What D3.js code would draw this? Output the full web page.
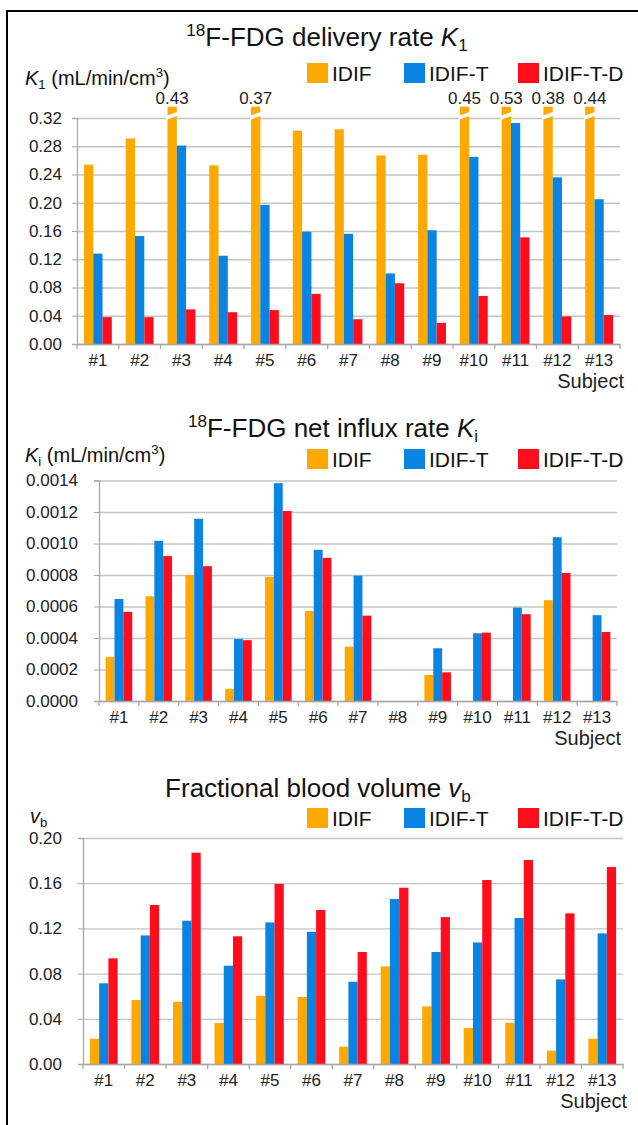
<!DOCTYPE html>
<html>
<head>
<meta charset="utf-8">
<script src="https://cdn.jsdelivr.net/npm/d3@7"></script>
<style>
  body { margin: 0; background: #fff; }
  svg { display: block; font-family: "Liberation Sans", Arial, sans-serif; }
</style>
</head>
<body>
<div id="chart"></div>
<script>
// data
const subjects = ["#1", "#2", "#3", "#4", "#5", "#6", "#7", "#8", "#9", "#10", "#11", "#12", "#13"];
const seriesNames = ["IDIF", "IDIF-T", "IDIF-T-D"];

// K1 (mL/min/cm3)
const k1Idif = [0.254, 0.291, 0.43, 0.253, 0.37, 0.302, 0.304, 0.267, 0.268, 0.45, 0.53, 0.38, 0.44];
const k1IdifT = [0.128, 0.153, 0.281, 0.125, 0.197, 0.159, 0.156, 0.100, 0.161, 0.265, 0.313, 0.236, 0.205];
const k1IdifTD = [0.038, 0.038, 0.049, 0.045, 0.048, 0.071, 0.035, 0.086, 0.030, 0.068, 0.151, 0.039, 0.041];
const k1Ticks = [0, 0.04, 0.08, 0.12, 0.16, 0.20, 0.24, 0.28, 0.32];

// Ki (mL/min/cm3)
const kiIdif = [0.00028, 0.000665, 0.0008, 0.000078, 0.000788, 0.000572, 0.000345, 0, 0.000165, 0, 0, 0.00064, 0];
const kiIdifT = [0.000648, 0.001017, 0.001157, 0.000394, 0.001383, 0.00096, 0.000796, 0, 0.000335, 0.00043, 0.000593, 0.00104, 0.000545];
const kiIdifTD = [0.000566, 0.00092, 0.000856, 0.000386, 0.001207, 0.000909, 0.000542, 0, 0.000182, 0.000434, 0.000551, 0.000813, 0.000438];
const kiTicks = [0, 0.0002, 0.0004, 0.0006, 0.0008, 0.0010, 0.0012, 0.0014];

// vb
const vbIdif = [0.0224, 0.0566, 0.0551, 0.0363, 0.0604, 0.0593, 0.0153, 0.0864, 0.051, 0.0319, 0.0365, 0.0118, 0.0224];
const vbIdifT = [0.0714, 0.1138, 0.1268, 0.087, 0.1253, 0.117, 0.0728, 0.146, 0.0991, 0.1076, 0.1292, 0.0749, 0.1156];
const vbIdifTD = [0.0935, 0.1407, 0.187, 0.113, 0.1593, 0.1363, 0.0991, 0.156, 0.130, 0.1628, 0.1805, 0.1333, 0.1743];
const vbTicks = [0, 0.04, 0.08, 0.12, 0.16, 0.20];

// titles / labels as rich text parts
const k1Title = [{t: "18", sup: 1}, {t: "F-FDG delivery rate "}, {t: "K", it: 1}, {t: "1", sub: 1}];
const kiTitle = [{t: "18", sup: 1}, {t: "F-FDG net influx rate "}, {t: "K", it: 1}, {t: "i", sub: 1}];
const vbTitle = [{t: "Fractional blood volume "}, {t: "v", it: 1}, {t: "b", sub: 1}];
const k1Label = [{t: "K", it: 1}, {t: "1", sub: 1}, {t: " (mL/min/cm"}, {t: "3", sup: 1}, {t: ")"}];
const kiLabel = [{t: "K", it: 1}, {t: "i", sub: 1}, {t: " (mL/min/cm"}, {t: "3", sup: 1}, {t: ")"}];
const vbLabel = [{t: "v", it: 1}, {t: "b", sub: 1}];
const xLabel = "Subject";

let width = 638;
let height = 1125;
let colors = {"IDIF": "#FFA800", "IDIF-T": "#0A84E2", "IDIF-T-D": "#FF0D1C"};
let gridColor = "#c4c4c4";
let axisColor = "#a8a8a8";

let svg = d3.select("#chart").append("svg").attr("width", width).attr("height", height);

// black frame (open to the right / bottom)
svg.append("path").attr("d", "M7,1125 V11 H638")
    .attr("fill", "none").attr("stroke", "#000").attr("stroke-width", 2);

function rich(text, parts, fs) {
    let shift = 0;
    parts.forEach(p => {
        let target = p.sup ? -fs * 0.38 : (p.sub ? fs * 0.2 : 0);
        text.append("tspan")
            .attr("dy", target - shift)
            .attr("font-size", (p.sup || p.sub) ? fs * 0.66 : fs)
            .attr("font-style", p.it ? "italic" : null)
            .text(p.t);
        shift = target;
    });
}

function drawChart(c) {
    let g = svg.append("g");
    let x = d3.scaleBand().domain(subjects).range([c.left, c.right]).paddingInner(1 / 3).paddingOuter(1 / 6);
    let x1 = d3.scaleBand().domain(seriesNames).range([0, x.bandwidth()]);
    let y = d3.scaleLinear().domain([0, c.yMax]).range([c.bottom, c.top]);

    // gridlines
    g.append("g").attr("transform", `translate(${c.left},0)`)
        .call(d3.axisLeft(y).tickValues(c.ticks).tickSize(-(c.right - c.left)).tickFormat(""))
        .call(a => a.select(".domain").remove())
        .call(a => a.selectAll("line").attr("stroke", gridColor).attr("stroke-width", 1.3));

    // bars
    let rows = subjects.map((s, i) => ({s: s, vals: c.series.map((arr, k) => ({key: seriesNames[k], v: arr[i]}))}));
    let cap = c.yMax * 1.05;
    let groups = g.selectAll(".grp").data(rows).join("g").attr("class", "grp")
        .attr("transform", d => `translate(${x(d.s)},0)`);
    groups.selectAll("rect").data(d => d.vals.filter(v => v.v > 0)).join("rect")
        .attr("x", d => x1(d.key))
        .attr("width", x1.bandwidth())
        .attr("y", d => y(Math.min(d.v, cap)))
        .attr("height", d => c.bottom - y(Math.min(d.v, cap)))
        .attr("fill", d => colors[d.key]);

    // broken bars: white slanted gap and value label
    let broken = [];
    rows.forEach(r => r.vals.forEach(v => { if (v.v > c.yMax) broken.push({s: r.s, key: v.key, v: v.v}); }));
    let yTop = y(cap);
    g.selectAll(".brk").data(broken).join("path").attr("class", "brk")
        .attr("d", d => {
            let x0 = x(d.s) + x1(d.key) - 1;
            let xe = x0 + x1.bandwidth() + 2;
            return `M${x0},${yTop + 9} L${xe},${yTop + 5} L${xe},${yTop + 9} L${x0},${yTop + 13} Z`;
        })
        .attr("fill", "#fff");
    g.selectAll(".brkl").data(broken).join("text").attr("class", "brkl")
        .attr("x", d => x(d.s) + x1(d.key) + x1.bandwidth() / 2)
        .attr("y", yTop - 3)
        .attr("text-anchor", "middle").attr("font-size", 17).attr("fill", "#222")
        .text(d => d.v.toFixed(2));

    // y axis
    g.append("g").attr("transform", `translate(${c.left},0)`)
        .call(d3.axisLeft(y).tickValues(c.ticks).tickSize(5).tickPadding(c.tickPad).tickFormat(c.fmt))
        .call(a => a.select(".domain").attr("stroke", axisColor).attr("stroke-width", 1.3))
        .call(a => a.selectAll("line").attr("stroke", axisColor))
        .call(a => a.selectAll("text").attr("font-size", 17).attr("fill", "#222").attr("font-family", null));

    // x axis
    g.append("g").attr("transform", `translate(0,${c.bottom})`)
        .call(d3.axisBottom(x).tickSize(0).tickPadding(10).tickSizeOuter(0))
        .call(a => a.select(".domain").attr("stroke", axisColor).attr("stroke-width", 1.3))
        .call(a => a.selectAll("text").attr("font-size", 17).attr("fill", "#222").attr("font-family", null));
    let half = (x.step() - x.bandwidth()) / 2;
    let bounds = subjects.map(s => x(s) - half).concat([c.right]);
    g.selectAll(".xtk").data(bounds).join("line").attr("class", "xtk")
        .attr("x1", d => d).attr("x2", d => d)
        .attr("y1", c.bottom).attr("y2", c.bottom + 5)
        .attr("stroke", axisColor).attr("stroke-width", 1.3);

    g.append("text").attr("x", c.right + 4).attr("y", c.bottom + 44)
        .attr("text-anchor", "end").attr("font-size", 20).attr("fill", "#222").text(xLabel);

    // title
    let title = g.append("text").attr("x", c.titleX).attr("y", c.titleY)
        .attr("text-anchor", "middle").attr("fill", "#111");
    rich(title, c.title, 26);

    // y label
    let yl = g.append("text").attr("x", c.labelX).attr("y", c.labelY).attr("fill", "#111");
    rich(yl, c.label, 20);

    // legend
    let legX = [307, 404, 518];
    let leg = g.selectAll(".leg").data(seriesNames).join("g").attr("class", "leg")
        .attr("transform", (d, i) => `translate(${legX[i]},${c.legY})`);
    leg.append("rect").attr("width", 21).attr("height", 20).attr("fill", d => colors[d]);
    leg.append("text").attr("x", 25).attr("y", 18).attr("font-size", 21).attr("fill", "#111").text(d => d);
}

drawChart({
    left: 77, right: 620, top: 118, bottom: 344, yMax: 0.32, ticks: k1Ticks,
    fmt: d3.format(".2f"), tickPad: 10,
    series: [k1Idif, k1IdifT, k1IdifTD],
    title: k1Title, titleX: 327, titleY: 46,
    label: k1Label, labelX: 25, labelY: 85,
    legY: 63
});

drawChart({
    left: 99, right: 617, top: 480.5, bottom: 701, yMax: 0.0014, ticks: kiTicks,
    fmt: d3.format(".4f"), tickPad: 16,
    series: [kiIdif, kiIdifT, kiIdifTD],
    title: kiTitle, titleX: 333, titleY: 437,
    label: kiLabel, labelX: 25, labelY: 462,
    legY: 449
});

drawChart({
    left: 83, right: 623, top: 838, bottom: 1064, yMax: 0.20, ticks: vbTicks,
    fmt: d3.format(".2f"), tickPad: 16,
    series: [vbIdif, vbIdifT, vbIdifTD],
    title: vbTitle, titleX: 318, titleY: 797,
    label: vbLabel, labelX: 30, labelY: 823,
    legY: 808
});
</script>
</body>
</html>
